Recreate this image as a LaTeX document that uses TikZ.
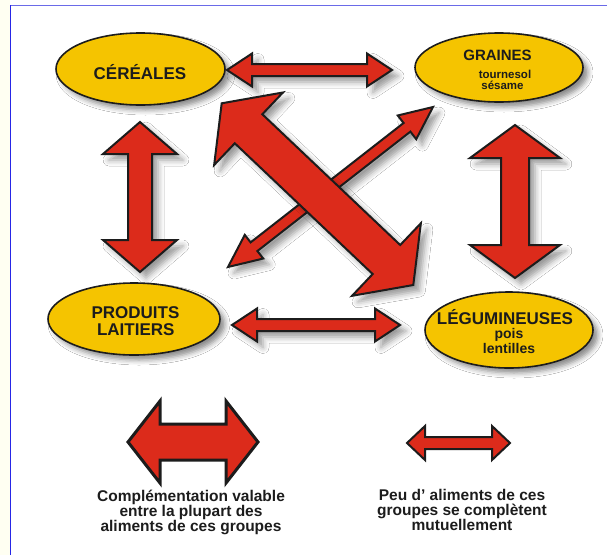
\documentclass[tikz,border=0pt]{standalone}
\usepackage{fontspec}
\setmainfont{Liberation Sans}
\usetikzlibrary{calc,shadows.blur,shapes.geometric}

\definecolor{grain}{HTML}{F5C400}
\definecolor{arrowred}{HTML}{DC2B1B}
\definecolor{ink}{HTML}{1C1C1C}
\definecolor{frameblue}{HTML}{2626E6}
\definecolor{topblue}{HTML}{6A6AE8}
\definecolor{stripcream}{HTML}{FFFFF2}

\tikzset{
  food/.style={ellipse, draw=ink, line width=1.6pt, fill=grain, inner sep=0pt,
    blur shadow={shadow xshift=5pt, shadow yshift=-5pt, shadow blur radius=5pt, shadow opacity=45}},
  redarrow/.style={draw=ink, fill=arrowred, line width=2pt, line join=miter, miter limit=20},
  shaded/.style={redarrow,
    blur shadow={shadow xshift=6pt, shadow yshift=-6pt, shadow blur radius=6pt, shadow opacity=40}},
  keyarrow/.style={redarrow, line width=3pt},
  bigname/.style={font=\bfseries\fontsize{17}{17}\selectfont, text=ink, inner sep=0pt, anchor=base},
  midname/.style={font=\bfseries\fontsize{15}{15}\selectfont, text=ink, inner sep=0pt, anchor=base},
  smallname/.style={font=\bfseries\fontsize{11.5}{11.5}\selectfont, text=ink, inner sep=0pt, anchor=base},
  subname/.style={font=\bfseries\fontsize{14}{14}\selectfont, text=ink, inner sep=0pt, anchor=base},
  keytext/.style={font=\bfseries\fontsize{15.5}{15}\selectfont, text=ink, inner sep=0pt, align=center, anchor=north},
}

% double-headed block arrow: style, tip A, tip B, half shaft, half head, head length
\newcommand\fatarrow[6]{%
  \path[#1] (#2)
    -- ($(#2)!#6pt!(#3)!#5pt!90:(#3)$)
    -- ($(#2)!#6pt!(#3)!#4pt!90:(#3)$)
    -- ($(#3)!#6pt!(#2)!#4pt!-90:(#2)$)
    -- ($(#3)!#6pt!(#2)!#5pt!-90:(#2)$)
    -- (#3)
    -- ($(#3)!#6pt!(#2)!#5pt!90:(#2)$)
    -- ($(#3)!#6pt!(#2)!#4pt!90:(#2)$)
    -- ($(#2)!#6pt!(#3)!#4pt!-90:(#3)$)
    -- ($(#2)!#6pt!(#3)!#5pt!-90:(#3)$)
    -- cycle;}

\begin{document}
\begin{tikzpicture}[x=1pt, y=-1pt]
  \useasboundingbox (0,0) rectangle (607,555);
  \fill[white] (0,0) rectangle (607,555);

  % page frame
  \fill[stripcream] (0,0) rectangle (10,555);
  \draw[topblue, line width=1.8pt] (10,5.5) -- (607,5.5);
  \draw[frameblue, line width=1.4pt] (10.5,555) -- (10.5,5);

  % food groups
  \node[food, minimum width=169pt, minimum height=72pt] (cer) at (140.5,69) {};
  \node[food, minimum width=168pt, minimum height=69pt] (gra) at (499,67.5) {};
  \node[food, minimum width=172pt, minimum height=72pt] (lai) at (134,319) {};
  \node[food, minimum width=168pt, minimum height=76pt] (leg) at (509,330) {};

  \node[bigname] (cerT) at (140,79.3) {CÉRÉALES};
  \node[midname] (graT) at (497.5,60.7) {GRAINES};
  \node[smallname] (graA) at (505,78.3) {tournesol};
  \node[smallname] (graB) at (502.5,89) {sésame};
  \node[bigname] (laiA) at (135.5,318.3) {PRODUITS};
  \node[bigname] (laiB) at (135.8,335) {LAITIERS};
  \node[bigname] (legT) at (505,324) {LÉGUMINEUSES};
  \node[subname] (legA) at (509,338.5) {pois};
  \node[subname] (legB) at (509,353) {lentilles};

  % arrow tips
  \coordinate (topL) at (227,70);
  \coordinate (topR) at (392,70);
  \coordinate (botL) at (232,325);
  \coordinate (botR) at (400,325);
  \coordinate (lftT) at (140,122);
  \coordinate (lftB) at (140,272);
  \coordinate (rgtT) at (515,125);
  \coordinate (rgtB) at (515,278);
  \coordinate (thinA) at (228,267);
  \coordinate (thinB) at (433,107);
  \coordinate (wideA) at (221.7,103.3);
  \coordinate (wideB) at (413.3,285);
  \coordinate (keyWL) at (128,442);
  \coordinate (keyWR) at (258,442);
  \coordinate (keyNL) at (407,443);
  \coordinate (keyNR) at (510,443);

  % links between the groups
  \fatarrow{shaded}{topL}{topR}{6}{16.5}{25}
  \fatarrow{shaded}{botL}{botR}{6}{16.5}{25}
  \fatarrow{shaded}{lftT}{lftB}{12}{37}{32}
  \fatarrow{shaded}{rgtT}{rgtB}{14}{45}{33}
  \fatarrow{shaded}{thinA}{thinB}{5.5}{15}{33}
  \fatarrow{shaded}{wideA}{wideB}{20}{50}{37}

  % key
  \fatarrow{keyarrow}{keyWL}{keyWR}{18}{41}{32}
  \fatarrow{redarrow}{keyNL}{keyNR}{6}{17}{18}

  \node[keytext] (keyW) at (191,490) {Complémentation valable\\entre la plupart des\\aliments de ces groupes};
  \node[keytext] (keyN) at (462,489) {Peu d' aliments de ces\\groupes se complètent\\mutuellement};
\end{tikzpicture}
\end{document}
